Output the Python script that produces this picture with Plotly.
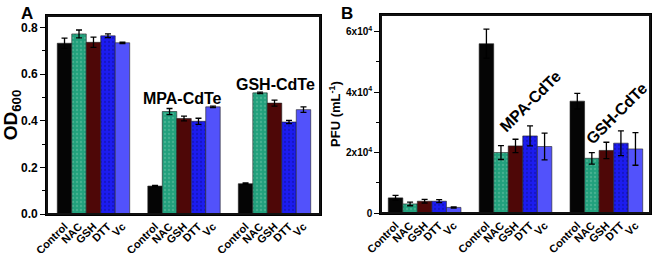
import plotly.graph_objects as go

# ---------------- data ----------------
treatments = ["Control", "NAC", "GSH", "DTT", "Vc"]
groups = ["No QDs", "MPA-CdTe", "GSH-CdTe"]

# Panel A: OD600 (one value per group)
od_control = [0.733, 0.120, 0.130]
od_nac = [0.773, 0.440, 0.520]
od_gsh = [0.737, 0.410, 0.476]
od_dtt = [0.765, 0.398, 0.395]
od_vc = [0.735, 0.460, 0.448]
od_control_err = [0.022, 0.003, 0.003]
od_nac_err = [0.017, 0.013, 0.003]
od_gsh_err = [0.022, 0.010, 0.013]
od_dtt_err = [0.008, 0.013, 0.007]
od_vc_err = [0.003, 0.003, 0.012]

# Panel B: PFU (mL^-1)
pfu_control = [5000, 56000, 37000]
pfu_nac = [3000, 20000, 18100]
pfu_gsh = [3900, 22200, 20700]
pfu_dtt = [3900, 25500, 23100]
pfu_vc = [1850, 22000, 21200]
pfu_control_err = [800, 4800, 2600]
pfu_nac_err = [600, 2300, 1900]
pfu_gsh_err = [600, 2200, 2700]
pfu_dtt_err = [500, 3300, 4100]
pfu_vc_err = [200, 4400, 5400]

pfu_ticks = [0, 20000, 40000, 60000]
pfu_ticktext = ["0", "2x10<sup>4</sup>", "4x10<sup>4</sup>", "6x10<sup>4</sup>"]

# ---------------- styling ----------------
colors = ["#050505", "#22a07c", "#4e0707", "#1c1cf0", "#5252fb"]
pattern_fg = [None, "#6cc4a5", None, "#10109a", None]
GROUP_STEP = 6.25
FONT = "Arial, Liberation Sans, Helvetica, sans-serif"

od_vals = [od_control, od_nac, od_gsh, od_dtt, od_vc]
od_errs = [od_control_err, od_nac_err, od_gsh_err, od_dtt_err, od_vc_err]
pfu_vals = [pfu_control, pfu_nac, pfu_gsh, pfu_dtt, pfu_vc]
pfu_errs = [pfu_control_err, pfu_nac_err, pfu_gsh_err, pfu_dtt_err, pfu_vc_err]

fig = go.Figure()

def positions(i):
    return [g * GROUP_STEP + i for g in range(len(groups))]

for panel, (vals, errs) in enumerate([(od_vals, od_errs), (pfu_vals, pfu_errs)]):
    xa = "x" if panel == 0 else "x2"
    ya = "y" if panel == 0 else "y2"
    for i, name in enumerate(treatments):
        marker = dict(color=colors[i], line=dict(color="#202020", width=0.6))
        if pattern_fg[i]:
            marker["pattern"] = dict(shape=".", fgcolor=pattern_fg[i], bgcolor=colors[i],
                                     size=4, solidity=0.25)
        fig.add_trace(go.Bar(
            x=positions(i), y=vals[i], width=1.0, name=name,
            marker=marker, xaxis=xa, yaxis=ya, showlegend=False,
            error_y=dict(type="data", array=errs[i], visible=True,
                         color="black", thickness=1.3, width=3),
        ))

tickvals = [g * GROUP_STEP + i for g in range(len(groups)) for i in range(len(treatments))]
ticktext = [f"<b>{t}</b>" for g in range(len(groups)) for t in treatments]

W, H = 655, 253
def px_x(p):
    return p / W
def px_y(p):
    return 1 - p / H

xaxis_common = dict(
    tickvals=tickvals, ticktext=ticktext, tickangle=-45,
    tickfont=dict(family=FONT, size=11, color="black"),
    showline=True, linecolor="black", linewidth=1.6, mirror=True,
    ticks="", showgrid=False, zeroline=False, automargin=False,
)
yaxis_common = dict(
    showline=True, linecolor="black", linewidth=1.6, mirror=True,
    ticks="outside", ticklen=5, tickwidth=1.3, tickcolor="black",
    showgrid=False, zeroline=False, automargin=False,
    tickfont=dict(family=FONT, size=12, color="black", weight="bold"),
)

fig.update_layout(
    width=W, height=H,
    margin=dict(l=0, r=0, t=0, b=0, autoexpand=False),
    plot_bgcolor="white", paper_bgcolor="white",
    barmode="overlay",
    font=dict(family=FONT, color="black"),
    xaxis=dict(domain=[px_x(47), px_x(320)], range=[-1.21, 17.64], anchor="y", **xaxis_common),
    yaxis=dict(domain=[px_y(214), px_y(16)], range=[0, 0.85], anchor="x",
               tickvals=[0, 0.2, 0.4, 0.6, 0.8], tickformat=".1f",
               minor=dict(dtick=0.1, ticks="outside", ticklen=3, tickcolor="black"),
               title=dict(text="<b>OD<sub>600</sub></b>", font=dict(family=FONT, size=19), standoff=4),
               **yaxis_common),
    xaxis2=dict(domain=[px_x(381), px_x(650)], range=[-1.0, 17.5], anchor="y2", **xaxis_common),
    yaxis2=dict(domain=[px_y(213), px_y(15)], range=[0, 65500], anchor="x2",
                tickvals=pfu_ticks, ticktext=[f"<b>{t}</b>" for t in pfu_ticktext],
                minor=dict(dtick=10000, ticks="outside", ticklen=3, tickcolor="black"),
                title=dict(text="<b>PFU (mL<sup>-1</sup>)</b>", font=dict(family=FONT, size=13), standoff=2),
                **{**yaxis_common, "tickfont": dict(family=FONT, size=10, color="black")}),
)

# frames around both plot areas (drawn in paper coordinates from the domains)
for xd, yd in [(fig.layout.xaxis.domain, fig.layout.yaxis.domain),
               (fig.layout.xaxis2.domain, fig.layout.yaxis2.domain)]:
    fig.add_shape(type="rect", xref="paper", yref="paper",
                  x0=xd[0], x1=xd[1], y0=yd[0], y1=yd[1],
                  line=dict(color="#111111", width=2), fillcolor="rgba(0,0,0,0)",
                  layer="above")

ann_font = dict(family=FONT, size=16, color="black")
annotations = [
    dict(text="<b>A</b>", xref="paper", yref="paper", x=px_x(20), y=px_y(3),
         yanchor="top", showarrow=False, borderpad=0,
         font=dict(family=FONT, size=17, color="black")),
    dict(text="<b>B</b>", xref="paper", yref="paper", x=px_x(347), y=px_y(3),
         yanchor="top", showarrow=False, borderpad=0,
         font=dict(family=FONT, size=17, color="black")),
    dict(text="<b>" + groups[1] + "</b>", xref="x", yref="y", x=8.14, y=0.494,
         showarrow=False, font=ann_font),
    dict(text="<b>" + groups[2] + "</b>", xref="x", yref="y", x=14.58, y=0.554,
         showarrow=False, font=ann_font),
    dict(text="<b>" + groups[1] + "</b>", xref="x2", yref="y2", x=9.25, y=37000,
         showarrow=False, font=ann_font, textangle=-45),
    dict(text="<b>" + groups[2] + "</b>", xref="x2", yref="y2", x=15.2, y=33000,
         showarrow=False, font=ann_font, textangle=-45),
]
fig.update_layout(annotations=annotations)

fig.write_html("out.html", config={"displayModeBar": False},
               post_script="document.body.style.margin='0';")
